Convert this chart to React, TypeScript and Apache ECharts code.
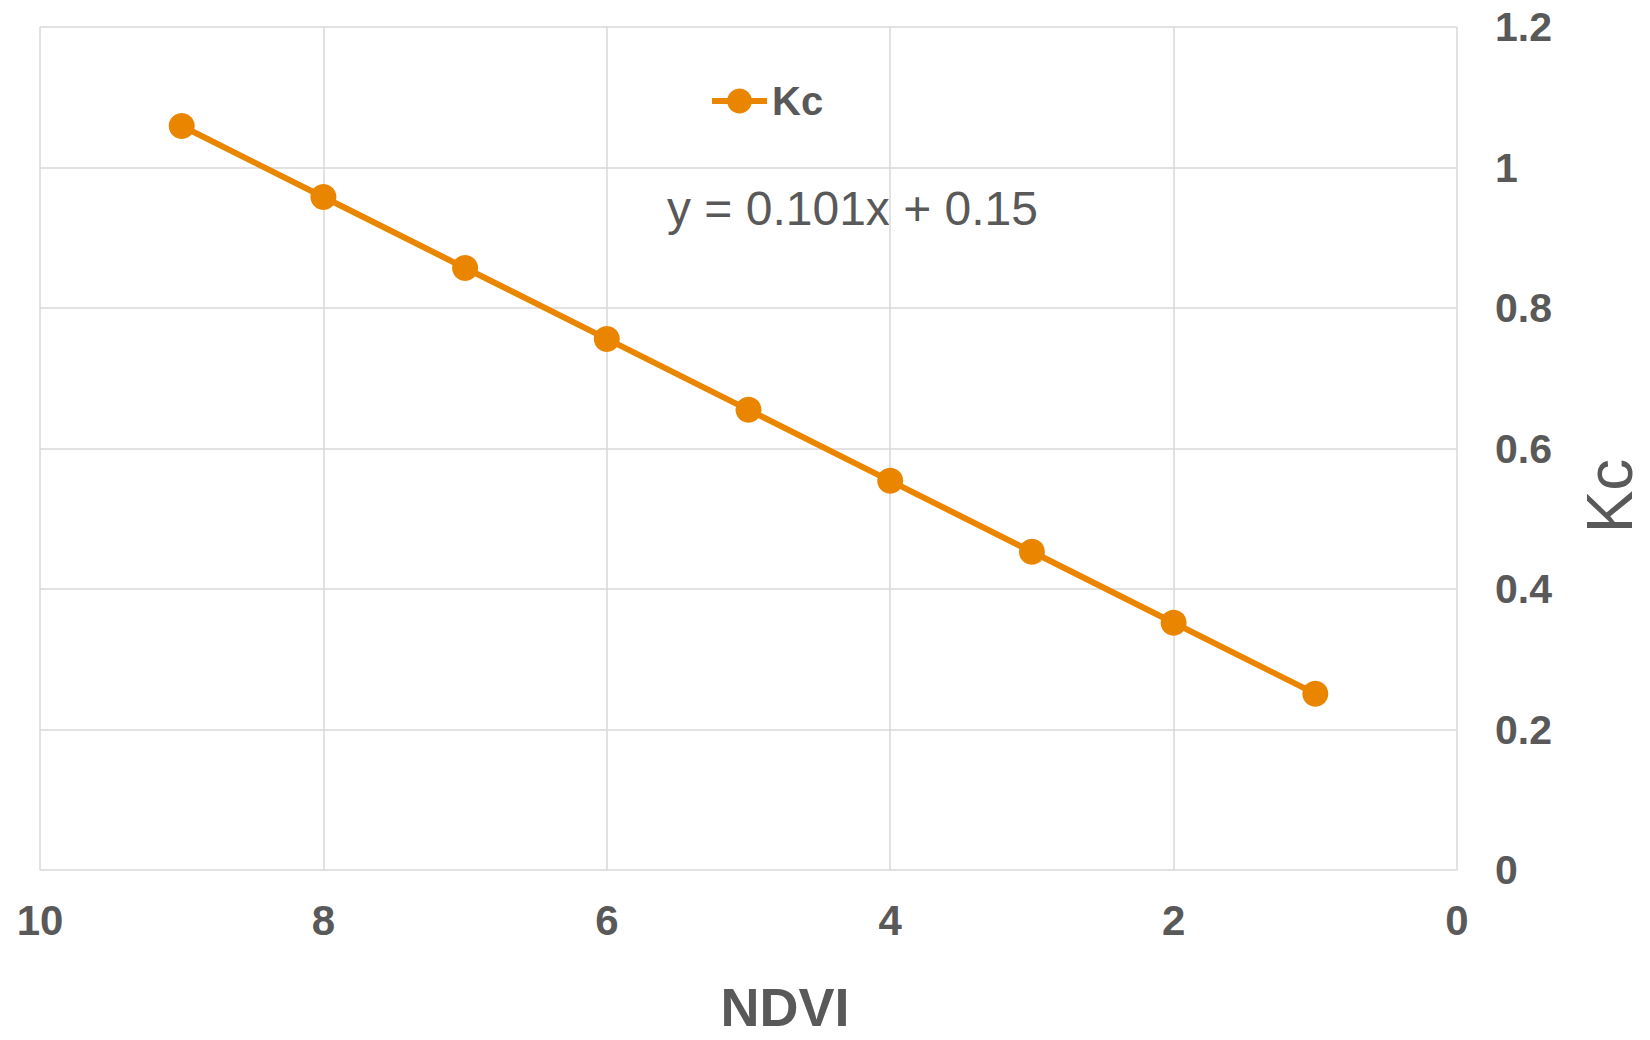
import React, { useEffect, useRef } from "react";
import * as echarts from "echarts";

// NDVI values and the matching crop coefficient readings
const ndvi = [9, 8, 7, 6, 5, 4, 3, 2, 1];
const kc = [1.059, 0.958, 0.857, 0.756, 0.655, 0.554, 0.453, 0.352, 0.251];
const seriesName = "Kc";
const equationText = "y = 0.101x + 0.15";
const xAxisTitle = "NDVI";
const yAxisTitle = "Kc";

const ORANGE = "#EA8500";
const TEXT = "#595959";
const GRID = "#d9d9d9";
const FONT = "'Liberation Sans', Arial, sans-serif";

export default function App() {
  const ref = useRef<HTMLDivElement>(null);

  useEffect(() => {
    if (!ref.current) return;
    const chart = echarts.init(ref.current, null, { renderer: "svg" });
    chart.setOption({
      animation: false,
      backgroundColor: "#ffffff",
      textStyle: { fontFamily: FONT, color: TEXT },
      grid: {
        left: 40,
        top: 27,
        width: 1417,
        height: 843,
        containLabel: false,
        outerBoundsMode: "none",
      },
      legend: {
        data: [seriesName],
        left: 704,
        top: 76,
        itemWidth: 55,
        itemHeight: 31,
        lineStyle: { width: 6 },
        textStyle: { fontSize: 40, fontWeight: "bold", color: TEXT, fontFamily: FONT },
      },
      xAxis: {
        type: "value",
        inverse: true,
        min: 0,
        max: 10,
        interval: 2,
        axisLine: { show: false },
        axisTick: { show: false },
        axisLabel: { fontSize: 42, fontWeight: "bold", color: TEXT, margin: 29, fontFamily: FONT },
        splitLine: { show: true, lineStyle: { color: GRID, width: 1.5 } },
      },
      yAxis: {
        type: "value",
        position: "right",
        min: 0,
        max: 1.2,
        interval: 0.2,
        axisLine: { show: false },
        axisTick: { show: false },
        axisLabel: { fontSize: 41, fontWeight: "bold", color: TEXT, margin: 38, fontFamily: FONT },
        splitLine: { show: true, lineStyle: { color: GRID, width: 1.5 } },
      },
      graphic: [
        {
          type: "text",
          left: 667,
          top: 184,
          style: { text: equationText, fontSize: 48, fill: TEXT, fontFamily: FONT },
        },
        {
          // x-axis title
          type: "text",
          x: 785,
          y: 1007,
          style: {
            text: xAxisTitle,
            fontSize: 54,
            lineHeight: 54,
            fontWeight: "bold",
            fill: TEXT,
            fontFamily: FONT,
            align: "center",
            verticalAlign: "middle",
          },
        },
        {
          // y-axis title, reading bottom to top
          type: "text",
          x: 1610,
          y: 496,
          rotation: Math.PI / 2,
          style: {
            text: yAxisTitle,
            fontSize: 64,
            lineHeight: 64,
            fill: TEXT,
            fontFamily: FONT,
            align: "center",
            verticalAlign: "middle",
          },
        },
      ],
      series: [
        {
          name: seriesName,
          type: "line",
          data: ndvi.map((x, i) => [x, kc[i]]),
          symbol: "circle",
          symbolSize: 26,
          lineStyle: { color: ORANGE, width: 6 },
          itemStyle: { color: ORANGE },
        },
      ],
    });
    return () => chart.dispose();
  }, []);

  return (
    <div
      ref={ref}
      style={{ position: "fixed", left: 0, top: 0, width: 1650, height: 1040 }}
    />
  );
}
